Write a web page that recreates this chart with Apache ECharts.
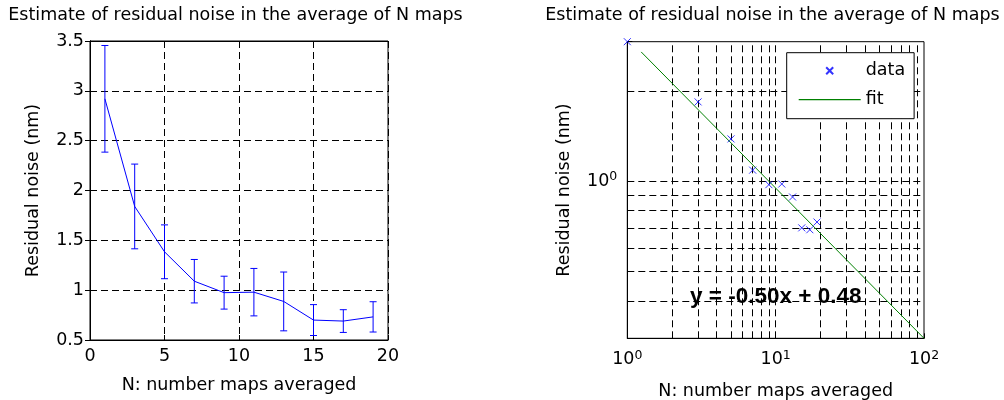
<!DOCTYPE html>
<html>
<head>
<meta charset="utf-8">
<title>Residual noise</title>
<script src="https://cdn.jsdelivr.net/npm/echarts@6/dist/echarts.min.js"></script>
<style>
    body { margin: 0; background: #fff; }
    #chart_container { width: 1004px; height: 400px; }
</style>
</head>
<body>
<div id="chart_container"></div>
<script>
"use strict";

// values
var nMaps = [1, 3, 5, 7, 9, 11, 13, 15, 17, 19];
var meanNoise = [2.92, 1.84, 1.385, 1.09, 0.975, 0.98, 0.887, 0.70, 0.69, 0.732];
var noiseErr = [0.535, 0.425, 0.27, 0.218, 0.165, 0.238, 0.295, 0.155, 0.114, 0.152];
var fitN = [1.24, 100];
var fitNoise = [2.70, 0.30];
// log grid lines of the right plot
var gridN = [2, 3, 4, 5, 6, 7, 8, 9, 10, 20, 30, 40, 50, 60, 70, 80, 90];
var gridNoise = [0.4, 0.5, 0.6, 0.7, 0.8, 0.9, 1, 2];

var titleText = 'Estimate of residual noise in the average of N maps';
var xName = 'N: number maps averaged';
var yName = 'Residual noise (nm)';
var fitText = 'y = -0.50x + 0.48';

var font = "'DejaVu Sans', sans-serif";
var fs = 17.5;
var dash = [7, 4];

var meanData = [], errData = [], fitData = [];
for (var i = 0, n = nMaps.length; i < n; i++) {
    meanData.push([nMaps[i], meanNoise[i]]);
    errData.push([nMaps[i], meanNoise[i] - noiseErr[i], meanNoise[i] + noiseErr[i]]);
}
for (var j = 0; j < fitN.length; j++) {
    fitData.push([fitN[j], fitNoise[j]]);
}

var gridMarks = [];
gridN.forEach(function (v) { gridMarks.push({xAxis: v}); });
gridNoise.forEach(function (v) { gridMarks.push({yAxis: v}); });

function renderErrorBar(params, api) {
    var x = api.value(0);
    var lo = api.coord([x, api.value(1)]);
    var hi = api.coord([x, api.value(2)]);
    var cap = 3.5;
    var style = {stroke: '#0000ff', lineWidth: 1};
    return {
        type: 'group',
        children: [
            {type: 'line', shape: {x1: lo[0], y1: lo[1], x2: hi[0], y2: hi[1]}, style: style},
            {type: 'line', shape: {x1: lo[0] - cap, y1: lo[1], x2: lo[0] + cap, y2: lo[1]}, style: style},
            {type: 'line', shape: {x1: hi[0] - cap, y1: hi[1], x2: hi[0] + cap, y2: hi[1]}, style: style}
        ]
    };
}

function powLabel(v) {
    var e = Math.log(v) / Math.LN10;
    var k = Math.round(e);
    if (Math.abs(e - k) > 1e-6) {
        return '';
    }
    return '{b|10}{e|' + k + '}';
}

var powRich = {
    b: {fontSize: fs, fontFamily: font, color: '#000'},
    e: {fontSize: 12.5, fontFamily: font, color: '#000', padding: [0, 0, 9, 0]}
};

var axisLine = {show: true, lineStyle: {color: '#000', width: 1}};
var tickIn = {show: true, inside: true, length: 5, lineStyle: {color: '#000'}};
var nameStyle = {color: '#000', fontSize: fs, fontFamily: font};
var gridLine = {show: true, lineStyle: {color: '#000', type: dash, width: 1}};

var myChart = echarts.init(document.getElementById('chart_container'));

var option = {
    animation: false,
    backgroundColor: '#fff',
    title: [
        {text: titleText, left: 235.5, top: 6, padding: 0, textAlign: 'center',
            textStyle: {fontSize: fs, fontWeight: 'normal', color: '#000', fontFamily: font}},
        {text: titleText, left: 772.5, top: 6, padding: 0, textAlign: 'center',
            textStyle: {fontSize: fs, fontWeight: 'normal', color: '#000', fontFamily: font}}
    ],
    grid: [
        {left: 90, top: 41, width: 298, height: 299, containLabel: false, outerBoundsMode: 'none',
            show: true, borderColor: '#000', borderWidth: 1},
        {left: 627.3, top: 41.7, width: 296.7, height: 296.6, containLabel: false, outerBoundsMode: 'none',
            show: true, borderColor: '#000', borderWidth: 1}
    ],
    legend: {
        data: [
            {name: 'data'},
            {name: 'fit', icon: 'path://M0,0L62,0L62,1.2L0,1.2Z'}
        ],
        orient: 'vertical',
        left: 786.7,
        top: 52.7,
        padding: [9, 9, 10, 12],
        itemWidth: 62,
        itemHeight: 14,
        itemGap: 11,
        backgroundColor: '#fff',
        borderColor: '#000',
        borderWidth: 1,
        borderRadius: 0,
        selectedMode: false,
        textStyle: {fontSize: fs, color: '#000', fontFamily: font}
    },
    xAxis: [
        {
            gridIndex: 0, type: 'value', min: 0, max: 20, interval: 5,
            name: xName, nameLocation: 'middle', nameGap: 36, nameMoveOverlap: false, nameTextStyle: nameStyle,
            axisLine: axisLine, axisTick: tickIn,
            axisLabel: {margin: 7, color: '#000', fontSize: fs, fontFamily: font},
            splitLine: gridLine
        },
        {
            gridIndex: 0, type: 'value', position: 'top', min: 0, max: 20, interval: 5,
            axisLine: axisLine, axisTick: tickIn, axisLabel: {show: false}, splitLine: {show: false}
        },
        {
            gridIndex: 1, type: 'log', logBase: 10, min: 1, max: 100,
            name: xName, nameLocation: 'middle', nameGap: 44, nameMoveOverlap: false, nameTextStyle: nameStyle,
            axisLine: axisLine, axisTick: tickIn,
            axisLabel: {margin: 10.5, formatter: powLabel, rich: powRich},
            splitLine: {show: false}
        }
    ],
    yAxis: [
        {
            gridIndex: 0, type: 'value', min: 0.5, max: 3.5, interval: 0.5,
            name: yName, nameLocation: 'middle', nameGap: 48, nameMoveOverlap: false, nameRotate: 90,
            nameTextStyle: nameStyle,
            axisLine: axisLine, axisTick: tickIn,
            axisLabel: {margin: 6, color: '#000', fontSize: fs, fontFamily: font},
            splitLine: gridLine
        },
        {
            gridIndex: 0, type: 'value', position: 'right', min: 0.5, max: 3.5, interval: 0.5,
            axisLine: axisLine, axisTick: tickIn, axisLabel: {show: false}, splitLine: {show: false}
        },
        {
            gridIndex: 1, type: 'log', logBase: 10, min: 0.3, max: 2.92,
            name: yName, nameLocation: 'middle', nameGap: 53.5, nameMoveOverlap: false, nameRotate: 90,
            nameTextStyle: nameStyle,
            axisLine: axisLine, axisTick: tickIn,
            axisLabel: {margin: 10, formatter: powLabel, rich: powRich},
            splitLine: {show: false}
        }
    ],
    series: [
        {
            name: 'mean',
            type: 'line',
            xAxisIndex: 0,
            yAxisIndex: 0,
            data: meanData,
            showSymbol: false,
            symbol: 'none',
            lineStyle: {color: '#0000ff', width: 1},
            z: 3
        },
        {
            name: 'error',
            type: 'custom',
            xAxisIndex: 0,
            yAxisIndex: 0,
            data: errData,
            encode: {x: 0, y: [1, 2]},
            renderItem: renderErrorBar,
            z: 3
        },
        {
            name: 'data',
            type: 'scatter',
            xAxisIndex: 2,
            yAxisIndex: 2,
            data: meanData,
            symbol: 'path://M-5,-5M5,5M-2.5,-2.5L2.5,2.5M2.5,-2.5L-2.5,2.5',
            symbolSize: 14,
            itemStyle: {color: 'rgba(0,0,0,0)', borderColor: '#0000ff', borderWidth: 1},
            z: 4,
            markLine: {
                silent: true,
                symbol: ['none', 'none'],
                label: {show: false},
                lineStyle: {color: '#000', type: dash, width: 1},
                emphasis: {disabled: true},
                z: 1,
                data: gridMarks
            }
        },
        {
            name: 'fit',
            type: 'line',
            xAxisIndex: 2,
            yAxisIndex: 2,
            data: fitData,
            showSymbol: false,
            symbol: 'none',
            lineStyle: {color: '#008000', width: 1},
            itemStyle: {color: '#008000'},
            z: 3
        }
    ],
    graphic: [
        {
            type: 'text',
            x: 775.8,
            y: 297,
            z: 10,
            style: {
                text: fitText,
                align: 'center',
                verticalAlign: 'middle',
                fontSize: 22.5,
                fontWeight: 'bold',
                fontFamily: "'Liberation Sans', Arial, sans-serif",
                fill: '#000'
            }
        }
    ]
};

myChart.setOption(option);
</script>
</body>
</html>
